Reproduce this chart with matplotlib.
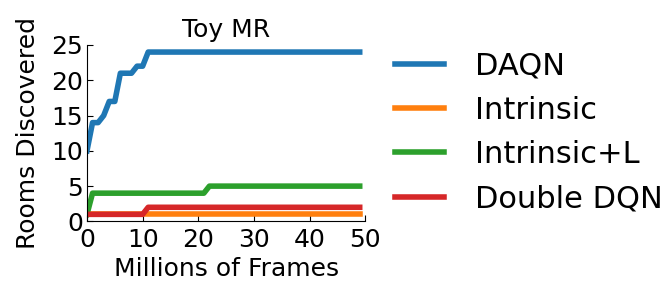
import matplotlib
matplotlib.use("Agg")
import matplotlib.pyplot as plt

# ── Data ────────────────────────────────────────────────────
frames = list(range(0, 50))  # millions of frames

daqn = [10, 14, 14, 15, 17, 17, 21, 21, 21, 22, 22] + [24] * 39
intrinsic = [1] * 50
intrinsic_l = [1] + [4] * 21 + [5] * 28
double_dqn = [1] * 11 + [2] * 39

series = [
    ("DAQN", daqn, "#1f77b4"),
    ("Intrinsic", intrinsic, "#ff7f0e"),
    ("Intrinsic+L", intrinsic_l, "#2ca02c"),
    ("Double DQN", double_dqn, "#d62728"),
]

# ── Plot ────────────────────────────────────────────────────
fig = plt.figure(figsize=(6.69, 3.0), dpi=100)
ax = fig.add_axes([0.130, 0.262, 0.416, 0.588])

for label, values, color in series:
    ax.plot(frames, values, color=color, linewidth=4, label=label)

ax.set_xlim(0, 50)
ax.set_ylim(0, 25)
ax.set_xticks([0, 10, 20, 30, 40, 50])
ax.set_yticks([0, 5, 10, 15, 20, 25])
ax.tick_params(direction="in", labelsize=18, length=4)
ax.tick_params(axis="x", pad=5)
ax.tick_params(axis="y", pad=3)
ax.spines["top"].set_visible(False)
ax.spines["right"].set_visible(False)

ax.set_xlabel("Millions of Frames", fontsize=18, labelpad=3)
ax.set_ylabel("Rooms Discovered", fontsize=18, labelpad=8)
ax.set_title("Toy MR", fontsize=18, pad=6)

fig.legend(loc="upper left", bbox_to_anchor=(0.55, 0.92), frameon=False,
           fontsize=22, handlelength=1.6, handletextpad=1.0, labelspacing=0.5)

fig.savefig("out.png", dpi=100)
